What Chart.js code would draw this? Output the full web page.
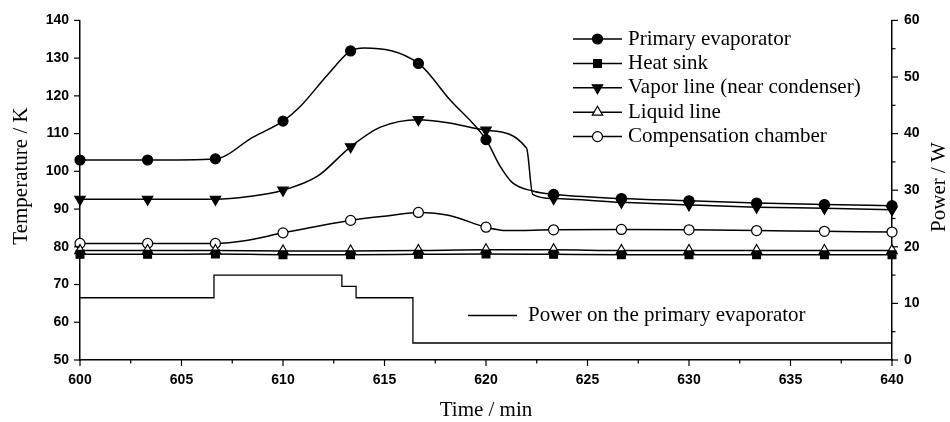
<!DOCTYPE html>
<html>
<head>
<meta charset="utf-8">
<script src="https://cdn.jsdelivr.net/npm/chart.js@4/dist/chart.umd.min.js"></script>
<style>
  html, body { margin: 0; padding: 0; background: #fff; }
  #wrap { width: 950px; height: 422px; }
</style>
</head>
<body>
<div id="wrap"><canvas id="c"></canvas></div>
<script>
// marker times (every 10/3 min)
var markTimes = [600, 603.33, 606.67, 610, 613.33, 616.67, 620, 623.33, 626.67, 630, 633.33, 636.67, 640];

// primary evaporator
var evapTime = [600, 603.33, 606.67, 608.5, 610, 610.8, 612.2, 613.33, 614, 616.67, 618.2, 620, 620.7, 621.3, 622.3, 623.33, 626.67, 630, 633.33, 636.67, 640];
var evapTemp = [103.0, 103.0, 103.3, 109.0, 113.3, 116.9, 125.6, 131.9, 132.7, 128.6, 119.1, 108.4, 101.3, 97.0, 94.8, 93.9, 92.8, 92.2, 91.6, 91.2, 90.9];

// heat sink
var sinkTemp = [78.0, 78.0, 78.1, 77.9, 77.9, 78.0, 78.1, 78.0, 77.9, 77.9, 77.9, 77.9, 77.9];

// vapor line (near condenser)
var vapTime = [600, 603.33, 606.67, 608.3, 610, 611.7, 613.33, 614.8, 616.67, 618.2, 620, 622.0, 622.3, 623.33, 626.67, 630, 633.33, 636.67, 640];
var vapTemp = [92.6, 92.6, 92.6, 93.3, 95.0, 98.7, 106.5, 111.7, 113.7, 112.8, 110.9, 106.1, 93.9, 92.8, 91.8, 91.1, 90.5, 90.2, 89.8];

// liquid line
var liqTemp = [79.0, 79.0, 79.0, 78.9, 78.9, 79.0, 79.2, 79.2, 79.0, 79.0, 79.0, 79.0, 79.0];

// compensation chamber
var compTime = [600, 603.33, 606.67, 608.2, 610, 613.33, 615.3, 616.67, 618.2, 620, 621, 623.33, 626.67, 630, 633.33, 636.67, 640];
var compTemp = [80.9, 80.9, 80.9, 81.7, 83.7, 87.0, 88.3, 89.1, 88.3, 85.2, 84.3, 84.5, 84.6, 84.5, 84.3, 84.1, 83.9];

// power on the primary evaporator (W)
var powerTime = [600, 606.6, 612.9, 613.6, 616.4, 640];
var powerW = [11, 15, 13, 11, 3, 3];

function pts(xs, ys) {
  return xs.map(function (x, i) { return { x: x, y: ys[i] }; });
}
function isMark(x) {
  return markTimes.some(function (t) { return Math.abs(t - x) < 0.05; });
}
function lineSet(label, data, style, size, fill, rot) {
  return {
    label: label,
    data: data,
    yAxisID: 'y',
    borderColor: '#000',
    borderWidth: 1.5,
    cubicInterpolationMode: 'monotone',
    pointStyle: style,
    pointRotation: rot || 0,
    pointBackgroundColor: fill,
    pointBorderColor: '#000',
    pointBorderWidth: 1.2,
    pointRadius: function (c) { return isMark(c.raw.x) ? size : 0; },
    markSize: size,
    clip: false
  };
}

var serif = 'Liberation Serif';
var sans = 'Liberation Sans';

function drawMark(ctx, ds, x, y) {
  var r = ds.markSize;
  ctx.save();
  ctx.fillStyle = ds.pointBackgroundColor;
  ctx.strokeStyle = '#000';
  ctx.lineWidth = 1.2;
  ctx.beginPath();
  if (ds.pointStyle === 'circle') {
    ctx.arc(x, y, r, 0, Math.PI * 2);
  } else if (ds.pointStyle === 'rect') {
    var s = r * Math.SQRT1_2;
    ctx.rect(x - s, y - s, 2 * s, 2 * s);
  } else {
    var d = ds.pointRotation ? -1 : 1;
    ctx.moveTo(x, y - d * r);
    ctx.lineTo(x + r * 0.866, y + d * r * 0.5);
    ctx.lineTo(x - r * 0.866, y + d * r * 0.5);
    ctx.closePath();
  }
  ctx.fill();
  ctx.stroke();
  ctx.restore();
}

var tickMarks = {
  id: 'tickMarks',
  afterDraw: function (chart) {
    var ctx = chart.ctx, a = chart.chartArea;
    ctx.save();
    ctx.strokeStyle = '#000';
    ctx.lineWidth = 1.2;
    ['x', 'y', 'y2'].forEach(function (id) {
      var s = chart.scales[id];
      s.ticks.forEach(function (t) {
        var major = id === 'x' ? t.value % 5 === 0 : t.value % 10 === 0;
        var len = major ? 6 : 3.5;
        var p = s.getPixelForValue(t.value);
        ctx.beginPath();
        if (id === 'x') { ctx.moveTo(p, a.bottom); ctx.lineTo(p, a.bottom + len); }
        else if (id === 'y') { ctx.moveTo(a.left, p); ctx.lineTo(a.left - len, p); }
        else { ctx.moveTo(a.right, p); ctx.lineTo(a.right + len, p); }
        ctx.stroke();
      });
    });
    ctx.restore();
  }
};

// y axis titles, both read bottom to top
var sideTitles = {
  id: 'sideTitles',
  afterDraw: function (chart) {
    var ctx = chart.ctx;
    ctx.save();
    ctx.font = '21px "' + serif + '"';
    ctx.fillStyle = '#000';
    ctx.textAlign = 'center';
    ctx.textBaseline = 'middle';
    [['Temperature / K', 21, 176], ['Power / W', 939, 187]].forEach(function (t) {
      ctx.save();
      ctx.translate(t[1], t[2]);
      ctx.rotate(-Math.PI / 2);
      ctx.fillText(t[0], 0, 0);
      ctx.restore();
    });
    ctx.restore();
  }
};

var legendBox = {
  id: 'legendBox',
  afterDraw: function (chart) {
    var ctx = chart.ctx;
    var sets = chart.data.datasets;
    ctx.save();
    ctx.font = '21px "' + serif + '"';
    ctx.fillStyle = '#000';
    ctx.textBaseline = 'middle';
    ctx.strokeStyle = '#000';
    for (var i = 0; i < 5; i++) {
      var y = 39 + i * 24.4;
      ctx.lineWidth = 1.5;
      ctx.beginPath(); ctx.moveTo(573, y); ctx.lineTo(622, y); ctx.stroke();
      drawMark(ctx, sets[i], 597.5, y);
      ctx.fillText(sets[i].label, 628, y);
    }
    ctx.lineWidth = 1.3;
    ctx.beginPath(); ctx.moveTo(468, 315.5); ctx.lineTo(517, 315.5); ctx.stroke();
    ctx.fillText(sets[5].label, 528, 315);
    ctx.restore();
  }
};

var powerSet = {
  label: 'Power on the primary evaporator',
  data: pts(powerTime, powerW),
  yAxisID: 'y2',
  borderColor: '#000',
  borderWidth: 1.3,
  stepped: true,
  pointRadius: 0,
  clip: false
};

function sideAxis(pos, min, max, width) {
  return {
    type: 'linear',
    position: pos,
    min: min,
    max: max,
    afterFit: function (s) { s.width = width; },
    grid: { display: false, drawTicks: false },
    border: { display: true, color: '#000', width: 1.5 },
    ticks: {
      stepSize: 5,
      padding: pos === 'left' ? 11 : 12,
      color: '#000',
      font: { family: sans, size: 14, weight: 'bold' },
      callback: function (v) { return v % 10 === 0 ? v : ''; }
    }
  };
}

new Chart(document.getElementById('c'), {
  type: 'line',
  data: {
    datasets: [
      lineSet('Primary evaporator', pts(evapTime, evapTemp), 'circle', 5, '#000'),
      lineSet('Heat sink', pts(markTimes, sinkTemp), 'rect', 5.5, '#000'),
      lineSet('Vapor line (near condenser)', pts(vapTime, vapTemp), 'triangle', 6, '#000', 180),
      lineSet('Liquid line', pts(markTimes, liqTemp), 'triangle', 6, '#fff'),
      lineSet('Compensation chamber', pts(compTime, compTemp), 'circle', 5, '#fff'),
      powerSet
    ]
  },
  options: {
    responsive: true,
    maintainAspectRatio: false,
    animation: false,
    devicePixelRatio: 1,
    events: [],
    layout: { padding: { top: 15, left: 0, right: 0, bottom: 0 } },
    plugins: { legend: { display: false }, tooltip: { enabled: false } },
    scales: {
      x: {
        type: 'linear',
        min: 600,
        max: 640,
        afterFit: function (s) { s.height = 62; },
        grid: { display: false, drawTicks: false },
        border: { display: true, color: '#000', width: 1.5 },
        ticks: {
          stepSize: 2.5,
          autoSkip: false,
          maxRotation: 0,
          padding: 12,
          color: '#000',
          font: { family: sans, size: 14, weight: 'bold' },
          callback: function (v) { return v % 5 === 0 ? v : ''; }
        },
        title: {
          display: true,
          text: 'Time / min',
          color: '#000',
          font: { family: serif, size: 21, lineHeight: 1 },
          padding: { top: 0, bottom: 1 }
        }
      },
      y: sideAxis('left', 50, 140, 80),
      y2: sideAxis('right', 0, 60, 58)
    }
  },
  plugins: [tickMarks, sideTitles, legendBox]
});
</script>
</body>
</html>
